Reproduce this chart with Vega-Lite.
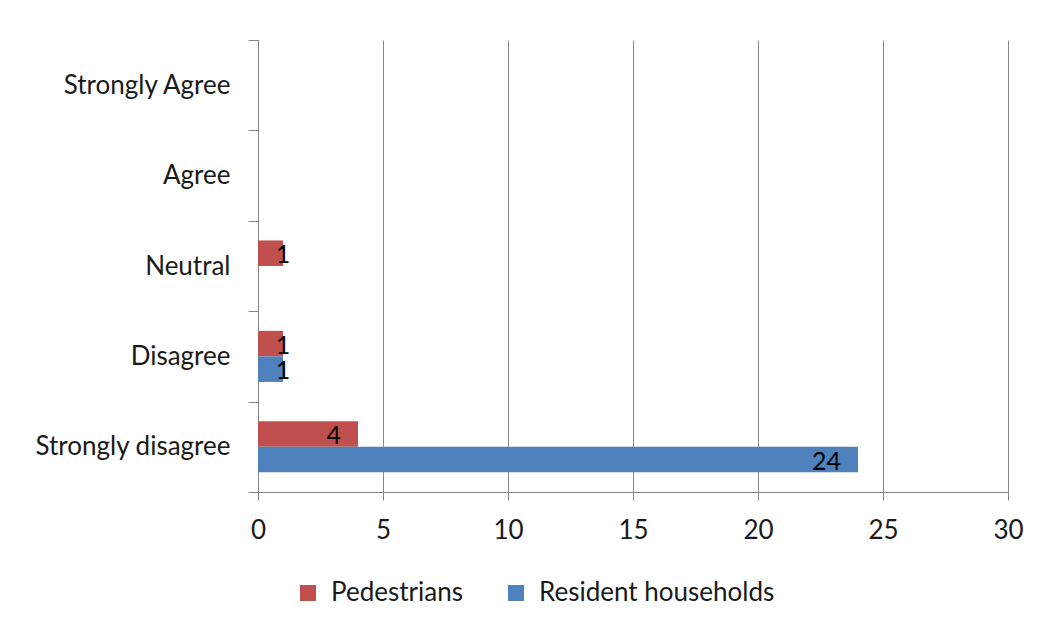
{
  "$schema": "https://vega.github.io/schema/vega-lite/v6.json",
  "width": 750,
  "height": 452,
  "autosize": {"type": "none"},
  "padding": {"left": 258, "top": 40, "right": 40, "bottom": 141},
  "background": "white",
  "config": {
    "view": {"stroke": null},
    "font": "Lato",
    "legend": {"padding": 0}
  },
  "data": {
    "values": [
      {"response": "Neutral", "group": "Pedestrians", "value": 1},
      {"response": "Disagree", "group": "Pedestrians", "value": 1},
      {"response": "Disagree", "group": "Resident households", "value": 1},
      {"response": "Strongly disagree", "group": "Pedestrians", "value": 4},
      {"response": "Strongly disagree", "group": "Resident households", "value": 24}
    ]
  },
  "encoding": {
    "y": {
      "field": "response",
      "type": "nominal",
      "scale": {
        "domain": ["Strongly Agree", "Agree", "Neutral", "Disagree", "Strongly disagree"],
        "paddingInner": 0,
        "paddingOuter": 0
      },
      "axis": {
        "title": null,
        "tickBand": "extent",
        "domainColor": "#868686",
        "tickColor": "#868686",
        "tickSize": 10,
        "labelPadding": 18,
        "labelFontSize": 26,
        "labelLimit": 0,
        "labelColor": "#1a1a1a",
        "labelFont": "Lato"
      }
    },
    "yOffset": {
      "field": "group",
      "type": "nominal",
      "sort": ["Pedestrians", "Resident households"],
      "scale": {"paddingInner": 0, "paddingOuter": 0.77}
    }
  },
  "layer": [
    {
      "mark": {"type": "bar"},
      "encoding": {
        "x": {
          "field": "value",
          "type": "quantitative",
          "scale": {"domain": [0, 30], "nice": false},
          "axis": {
            "title": null,
            "values": [0, 5, 10, 15, 20, 25, 30],
            "grid": true,
            "gridColor": "#868686",
            "domainColor": "#868686",
            "tickColor": "#868686",
            "tickSize": 8,
            "labelPadding": 17,
            "labelFlush": false,
            "labelFontSize": 26,
            "labelColor": "#1a1a1a",
            "labelFont": "Lato"
          }
        },
        "color": {
          "field": "group",
          "type": "nominal",
          "sort": ["Pedestrians", "Resident households"],
          "scale": {"domain": ["Pedestrians", "Resident households"], "range": ["#C0504D", "#4F81BD"]},
          "legend": {
            "title": null,
            "orient": "none",
            "legendX": 37,
            "legendY": 540,
            "direction": "horizontal",
            "symbolType": "square",
            "symbolSize": 256,
            "symbolStrokeWidth": 0,
            "labelFontSize": 26,
            "labelLimit": 0,
            "labelColor": "#1a1a1a",
            "labelFont": "Lato",
            "labelOffset": 10,
            "columnPadding": 40
          }
        }
      }
    },
    {
      "transform": [{"filter": "datum.value >= 2"}],
      "mark": {"type": "text", "align": "right", "dx": -17, "dy": 2, "fontSize": 25, "color": "#000000", "font": "Lato"},
      "encoding": {
        "x": {"field": "value", "type": "quantitative"},
        "text": {"field": "value", "type": "quantitative"}
      }
    },
    {
      "transform": [{"filter": "datum.value < 2"}],
      "mark": {"type": "text", "align": "center", "dx": 0, "dy": 2, "fontSize": 25, "color": "#000000", "font": "Lato"},
      "encoding": {
        "x": {"field": "value", "type": "quantitative"},
        "text": {"field": "value", "type": "quantitative"}
      }
    }
  ]
}
